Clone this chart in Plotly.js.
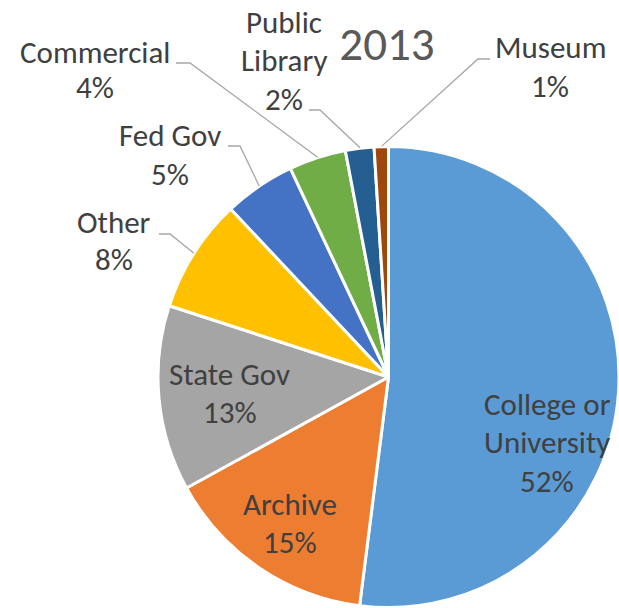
<!DOCTYPE html>
<html>
<head>
<meta charset="utf-8">
<script src="https://cdn.plot.ly/plotly-3.0.1.min.js"></script>
<style>html,body{margin:0;padding:0;background:#fff;}#chart{width:619px;height:608px;}</style>
</head>
<body>
<div id="chart"></div>
<script>
// ---- data ----
const categories = ["College or University", "Archive", "State Gov", "Other", "Fed Gov", "Commercial", "Public Library", "Museum"];
const labelLines = [["College or", "University"], ["Archive"], ["State Gov"], ["Other"], ["Fed Gov"], ["Commercial"], ["Public", "Library"], ["Museum"]];
const percents = [52, 15, 13, 8, 5, 4, 2, 1];
const colors = ["#5B9BD5", "#ED7D31", "#A5A5A5", "#FFC000", "#4472C4", "#70AD47", "#255E91", "#9E480E"];
const chartTitle = "2013";

// ---- layout helpers (pixel -> paper) ----
const W = 619, H = 608;
const cx = 389, cy = 377, R = 231;
const px = (x) => x / W;
const py = (y) => 1 - y / H;
const FS = 31;

// label positions: centre x, first baseline, line spacing; leader elbows
const labelPos = [
  [547, 415, 38.5, null],
  [290, 515, 38, null],
  [230, 385, 38, null],
  [114, 233, 37.5, [[159, 234], [170, 234]]],
  [170, 146, 39, [[228, 146], [240, 146]]],
  [95, 63, 35.5, [[176, 63], [190, 63]]],
  [284, 33, 38.5, [[309, 110], [320, 110]]],
  [550, 58, 39, [[490, 59], [478, 59]]]
];

const total = percents.reduce((a, b) => a + b, 0);
let cum = 0;
const annotations = [];
const shapes = [];
const font = {family: "Calibri, Carlito, Lato, sans-serif", size: FS, color: "#404040"};
percents.forEach((v, i) => {
  const midFrac = (cum + v / 2) / total;
  cum += v;
  const ang = midFrac * 2 * Math.PI;
  const rimX = cx + R * Math.sin(ang);
  const rimY = cy - R * Math.cos(ang);
  const [lx, b0, ls, elbow] = labelPos[i];
  const lines = labelLines[i].concat([v + "%"]);
  lines.forEach((t, k) => {
    annotations.push({
      text: t,
      x: px(lx), y: py(b0 + k * ls - 0.29 * FS - 2.5), xref: "paper", yref: "paper",
      xanchor: "center", yanchor: "middle", showarrow: false,
      font: font, align: "center"
    });
  });
  if (elbow) {
    const pts = elbow.concat([[rimX, rimY]]);
    const path = pts.map((p, k) => (k ? "L" : "M") + px(p[0]) + "," + py(p[1])).join(" ");
    shapes.push({type: "path", xref: "paper", yref: "paper", path: path,
      line: {color: "#A6A6A6", width: 1.3}});
  }
});

const trace = {
  type: "pie",
  labels: categories,
  values: percents,
  sort: false,
  direction: "clockwise",
  rotation: 0,
  marker: {colors: colors, line: {color: "#FFFFFF", width: 3}},
  textinfo: "none",
  hoverinfo: "label+percent",
  domain: {x: [px(cx - R), 1], y: [py(cy + R), py(cy - R)]},
  showlegend: false
};

const layout = {
  width: W, height: H,
  margin: {l: 0, r: 0, t: 0, b: 0},
  paper_bgcolor: "#FFFFFF",
  title: {text: chartTitle, x: px(387), xanchor: "center", y: py(44), yanchor: "middle",
    font: {family: "Calibri, Carlito, Lato, sans-serif", size: 47, color: "#595959"}},
  annotations: annotations,
  shapes: shapes,
  showlegend: false
};

Plotly.newPlot("chart", [trace], layout, {displayModeBar: false, staticPlot: true});
</script>
</body>
</html>
